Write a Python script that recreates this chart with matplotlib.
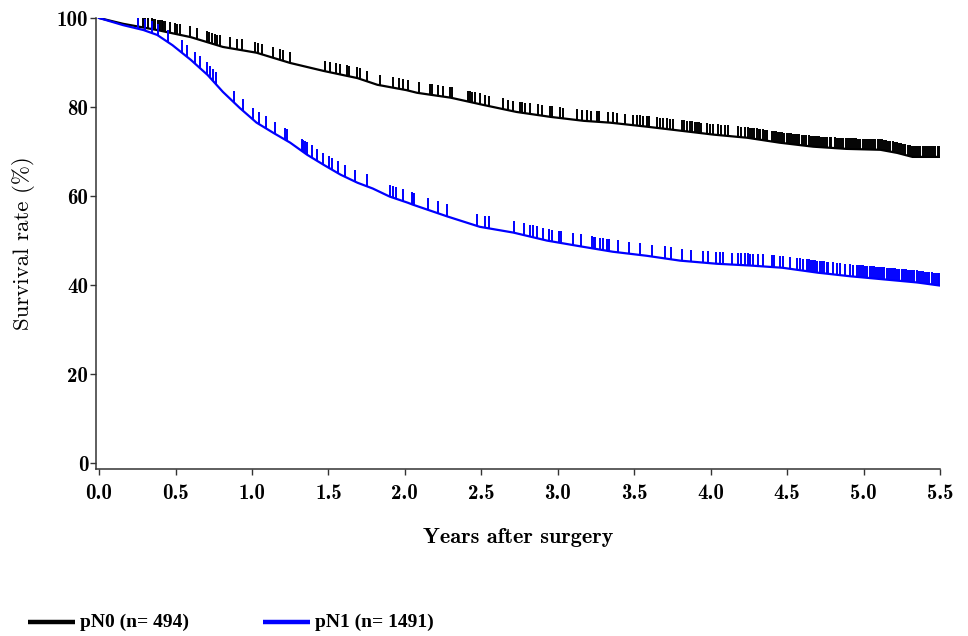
import numpy as np
import matplotlib.pyplot as plt
from matplotlib.lines import Line2D

plt.rcParams['axes.formatter.use_mathtext'] = True

# Kaplan-Meier estimates (years, survival %)
pn0_time = [0.0, 0.157, 0.38, 0.6, 0.81, 1.03, 1.25, 1.47, 1.69, 1.82, 2.01, 2.08, 2.30,
            2.51, 2.73, 2.95, 3.17, 3.34, 3.58, 4.02, 4.24, 4.45, 4.67, 4.89, 5.11, 5.22,
            5.32, 5.5]
pn0_surv = [100.0, 98.7, 97.3, 95.7, 93.5, 92.2, 89.9, 88.1, 86.5, 85.0, 83.8, 83.2, 82.1,
            80.5, 78.9, 77.8, 76.9, 76.5, 75.6, 73.8, 73.1, 72.0, 71.1, 70.6, 70.4, 69.7,
            68.8, 68.8]

pn1_time = [0.0, 0.157, 0.29, 0.38, 0.48, 0.60, 0.71, 0.81, 0.92, 1.03, 1.14, 1.25, 1.36,
            1.47, 1.58, 1.69, 1.79, 1.90, 2.02, 2.05, 2.28, 2.49, 2.71, 2.93, 3.15, 3.36,
            3.58, 3.80, 4.04, 4.26, 4.47, 4.70, 4.91, 5.13, 5.35, 5.5]
pn1_surv = [100.0, 98.4, 97.3, 96.2, 93.9, 90.6, 87.2, 83.4, 79.8, 76.5, 74.2, 72.0, 69.3,
            67.0, 64.8, 63.0, 61.7, 59.9, 58.5, 58.1, 55.4, 53.1, 51.8, 50.0, 48.7, 47.5,
            46.6, 45.5, 44.8, 44.4, 43.9, 42.8, 42.0, 41.3, 40.6, 39.9]

# censored observations
pn0_censor = [0.257, 0.29, 0.30, 0.32, 0.345, 0.355, 0.366, 0.388, 0.399, 0.41, 0.42,
              0.43, 0.464, 0.497, 0.512, 0.53, 0.595, 0.639, 0.704, 0.72, 0.74, 0.757,
              0.774, 0.79, 0.857, 0.90, 0.933, 1.02, 1.042, 1.064, 1.136, 1.184, 1.20,
              1.25, 1.478, 1.51, 1.55, 1.576, 1.62, 1.635, 1.685, 1.707, 1.755, 1.838,
              1.925, 1.964, 1.986, 2.023, 2.09, 2.165, 2.18, 2.22, 2.248, 2.296, 2.307,
              2.415, 2.426, 2.437, 2.46, 2.49, 2.525, 2.553, 2.644, 2.677, 2.71, 2.753,
              2.769, 2.786, 2.82, 2.873, 2.895, 2.95, 2.96, 3.015, 3.037, 3.124, 3.157,
              3.19, 3.22, 3.255, 3.272, 3.33, 3.364, 3.386, 3.44, 3.494, 3.516, 3.538,
              3.56, 3.582, 3.60, 3.647, 3.67, 3.69, 3.713, 3.735, 3.756, 3.81, 3.826,
              3.843, 3.865, 3.88, 3.896, 3.91, 3.926, 3.94, 3.974, 3.996, 4.018, 4.05,
              4.07, 4.094, 4.116, 4.18, 4.20, 4.225, 4.247, 4.26, 4.273, 4.286, 4.30,
              4.313, 4.326, 4.34, 4.353, 4.366, 4.40, 4.413, 4.426, 4.44, 4.453, 4.466,
              4.48, 4.50, 4.513, 4.526, 4.54, 4.553, 4.566, 4.58, 4.60, 4.613, 4.626,
              4.64, 4.654, 4.667, 4.68, 4.694, 4.708, 4.722, 4.736, 4.75, 4.764, 4.778,
              4.79, 4.812, 4.826, 4.84, 4.854, 4.868, 4.882, 4.896, 4.91, 4.924, 4.938,
              4.952, 4.966, 4.98, 4.994, 5.008, 5.022, 5.036, 5.05, 5.064, 5.078, 5.092,
              5.106, 5.12, 5.134, 5.148, 5.162, 5.176, 5.19, 5.204, 5.218, 5.232, 5.246,
              5.26, 5.274, 5.288, 5.302, 5.316, 5.33, 5.344, 5.358, 5.372, 5.386, 5.40,
              5.414, 5.428, 5.442, 5.456, 5.47, 5.484, 5.495]
pn1_censor = [0.257, 0.30, 0.345, 0.388, 0.453, 0.54, 0.574, 0.628, 0.66, 0.704, 0.726,
              0.748, 0.765, 0.883, 0.944, 1.009, 1.048, 1.092, 1.151, 1.216, 1.228, 1.326,
              1.336, 1.347, 1.358, 1.39, 1.424, 1.467, 1.506, 1.522, 1.565, 1.609, 1.674,
              1.75, 1.903, 1.925, 1.942, 1.986, 2.045, 2.056, 2.062, 2.154, 2.219, 2.274,
              2.47, 2.525, 2.553, 2.714, 2.78, 2.819, 2.836, 2.867, 2.906, 2.943, 2.965,
              3.008, 3.02, 3.102, 3.152, 3.226, 3.235, 3.244, 3.277, 3.298, 3.32, 3.337,
              3.392, 3.468, 3.538, 3.615, 3.702, 3.739, 3.815, 3.87, 3.953, 3.985, 4.035,
              4.062, 4.079, 4.138, 4.181, 4.197, 4.225, 4.242, 4.258, 4.28, 4.308, 4.345,
              4.40, 4.415, 4.454, 4.476, 4.52, 4.563, 4.585, 4.607, 4.628, 4.642, 4.656,
              4.67, 4.684, 4.698, 4.712, 4.726, 4.74, 4.758, 4.77, 4.80, 4.824, 4.846,
              4.879, 4.912, 4.933, 4.955, 4.969, 4.983, 4.997, 5.011, 5.025, 5.039, 5.053,
              5.067, 5.081, 5.095, 5.109, 5.123, 5.137, 5.151, 5.165, 5.179, 5.193, 5.207,
              5.221, 5.235, 5.249, 5.263, 5.277, 5.291, 5.305, 5.319, 5.333, 5.347, 5.361,
              5.375, 5.389, 5.403, 5.417, 5.431, 5.445, 5.459, 5.473, 5.487, 5.495]

labels = ['pN0 (n= 494)', 'pN1 (n= 1491)']
colors = ['black', '#0000ff']

fig = plt.figure(figsize=(9.68, 6.36), dpi=100)
ax = fig.add_axes([96 / 968, 1 - 469 / 636, 844 / 968, 451 / 636])

groups = [(pn0_time, pn0_surv, pn0_censor, 2.4), (pn1_time, pn1_surv, pn1_censor, 2.7)]
for (t, s, c, h), col in zip(groups, colors):
    ax.plot(t, s, color=col, linewidth=1.6, solid_joinstyle='miter')
    base = np.interp(c, t, s)
    ax.vlines(c, base, base + h, color=col, linewidth=1.4)

ax.set_xlim(-0.02, 5.5)
ax.set_ylim(-1.3, 100)
ax.set_xticks([0.0, 0.5, 1.0, 1.5, 2.0, 2.5, 3.0, 3.5, 4.0, 4.5, 5.0, 5.5])
ax.set_xticklabels(['0.0', '0.5', '1.0', '1.5', '2.0', '2.5', '3.0', '3.5', '4.0', '4.5',
                    '5.0', '5.5'])
ax.set_yticks([0, 20, 40, 60, 80, 100])
ax.set_yticklabels(['0', '20', '40', '60', '80', '100'])

for side in ['top', 'right']:
    ax.spines[side].set_visible(False)
for side in ['left', 'bottom']:
    ax.spines[side].set_color('#333333')
    ax.spines[side].set_linewidth(1.1)
ax.tick_params(axis='both', color='#333333', width=1.0, length=4.5, labelsize=15)
ax.tick_params(axis='y', pad=1)
ax.tick_params(axis='x', pad=6)
for lab in ax.get_xticklabels() + ax.get_yticklabels():
    lab.set_fontfamily('cmb10')

ax.set_xlabel('Years after surgery', fontfamily='cmb10', fontsize=16, labelpad=18)
ax.set_ylabel('Survival rate (%)', fontfamily='cmr10', fontsize=16.5, labelpad=16)

# legend drawn along the bottom of the figure
leg_y = 1 - 622 / 636
for x0, lab, col in zip([28, 263], labels, colors):
    fig.add_artist(Line2D([x0 / 968, (x0 + 47) / 968], [leg_y, leg_y], color=col,
                          linewidth=3.2, solid_capstyle='butt'))
    fig.text((x0 + 52) / 968, leg_y, lab, fontfamily='Liberation Serif',
             fontweight='bold', fontsize=14, va='center', ha='left')

fig.savefig('out.png', dpi=100)
